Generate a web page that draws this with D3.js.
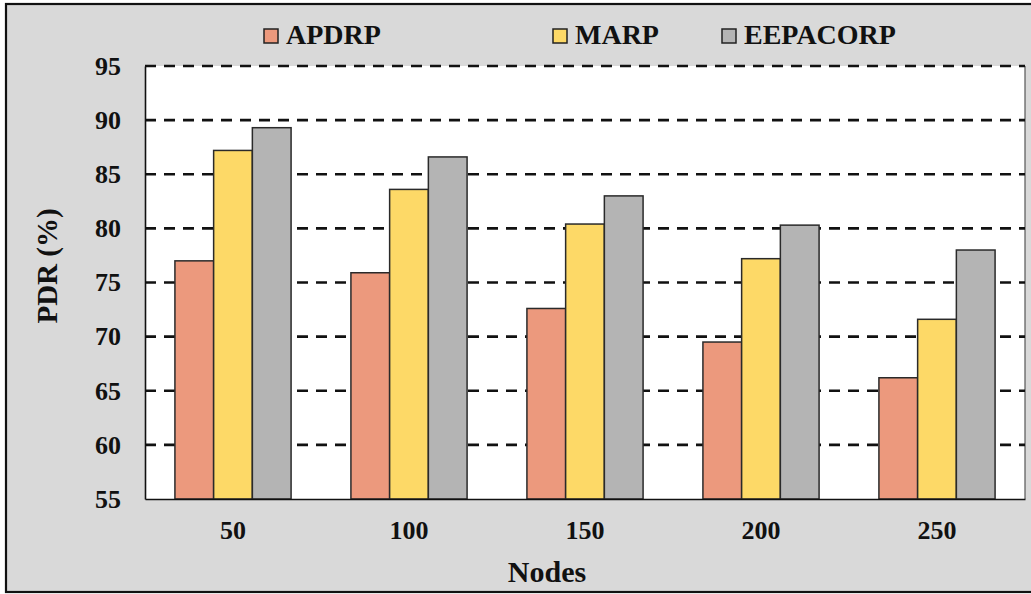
<!DOCTYPE html>
<html>
<head>
<meta charset="utf-8">
<script src="https://cdn.jsdelivr.net/npm/d3@7"></script>
<style>
  html, body { margin: 0; padding: 0; background: #d9d9d9; }
  svg { display: block; }
  text { font-family: "Liberation Serif", "Times New Roman", serif; font-weight: bold; fill: #111; }
</style>
</head>
<body>
<svg id="chart" width="1031" height="594"></svg>
<script>
const categories = ["50", "100", "150", "200", "250"];
const seriesNames = ["APDRP", "MARP", "EEPACORP"];
const apdrp = [77.0, 75.9, 72.6, 69.5, 66.2];
const marp = [87.2, 83.6, 80.4, 77.2, 71.6];
const eepacorp = [89.3, 86.6, 83.0, 80.3, 78.0];
const yTicks = [55, 60, 65, 70, 75, 80, 85, 90, 95];
const colors = ["#ec997d", "#fdd967", "#b4b4b4"];

const series = [apdrp, marp, eepacorp];
const width = 1031, height = 594;
const margin = { left: 145, right: 6, top: 66, bottom: 95 };

const svg = d3.select("#chart");

// outer frame
svg.append("rect").attr("x", 0).attr("y", 0).attr("width", width).attr("height", height).attr("fill", "#ffffff");
svg.append("rect").attr("x", 6).attr("y", 4).attr("width", width + 10).attr("height", 588)
  .attr("fill", "#d9d9d9").attr("stroke", "#111").attr("stroke-width", 2.2);

const x0 = d3.scaleBand().domain(categories)
  .range([margin.left, width - margin.right]).paddingInner(0.34).paddingOuter(0.17);
const x1 = d3.scaleBand().domain(seriesNames).range([0, x0.bandwidth()]);
const y = d3.scaleLinear().domain([55, 95]).range([height - margin.bottom, margin.top]);

// plot area
svg.append("rect").attr("x", margin.left).attr("y", margin.top)
  .attr("width", width - margin.right - margin.left).attr("height", y(55) - y(95))
  .attr("fill", "#ffffff");

// right edge
svg.append("line").attr("x1", width - margin.right).attr("x2", width - margin.right)
  .attr("y1", y(95)).attr("y2", y(55)).attr("stroke", "#555").attr("stroke-width", 1.2);

// gridlines
svg.append("g").selectAll("line").data(yTicks.filter(t => t > 55)).join("line")
  .attr("x1", margin.left).attr("x2", width - margin.right)
  .attr("y1", d => y(d)).attr("y2", d => y(d))
  .attr("stroke", "#111").attr("stroke-width", 2.6).attr("stroke-dasharray", "11,8");

// bars
const groups = svg.append("g").selectAll("g").data(categories).join("g")
  .attr("transform", d => `translate(${x0(d)},0)`);
groups.selectAll("rect").data((d, i) => seriesNames.map((s, j) => ({ s, v: series[j][i], j })))
  .join("rect")
  .attr("x", d => x1(d.s)).attr("width", x1.bandwidth())
  .attr("y", d => y(d.v)).attr("height", d => y(55) - y(d.v))
  .attr("fill", d => colors[d.j]).attr("stroke", "#2a2a2a").attr("stroke-width", 1.5);

// y axis
const yAxis = d3.axisLeft(y).tickValues(yTicks).tickSize(0).tickPadding(24);
const gy = svg.append("g").attr("transform", `translate(${margin.left},0)`).call(yAxis);
gy.select(".domain").attr("stroke", "#111").attr("stroke-width", 1.6);
gy.selectAll("text").attr("font-size", 26).attr("fill", "#111");

// x axis
const xAxis = d3.axisBottom(x0).tickSize(0).tickPadding(22);
const gx = svg.append("g").attr("transform", `translate(0,${y(55)})`).call(xAxis);
gx.select(".domain").attr("stroke", "#111").attr("stroke-width", 1.6);
gx.selectAll("text").attr("font-size", 26).attr("fill", "#111");

// axis titles
svg.append("text").attr("transform", `translate(57,266) rotate(-90)`)
  .attr("text-anchor", "middle").attr("font-size", 29).text("PDR (%)");
svg.append("text").attr("x", 547).attr("y", 582)
  .attr("text-anchor", "middle").attr("font-size", 30).text("Nodes");

// legend
const legendX = [264, 553, 722];
const lg = svg.append("g").selectAll("g").data(seriesNames).join("g")
  .attr("transform", (d, i) => `translate(${legendX[i]},29)`);
lg.append("rect").attr("width", 14).attr("height", 14)
  .attr("fill", (d, i) => colors[i]).attr("stroke", "#222").attr("stroke-width", 1.5);
lg.append("text").attr("x", 22).attr("y", 15).attr("font-size", 28).text(d => d);
</script>
</body>
</html>
